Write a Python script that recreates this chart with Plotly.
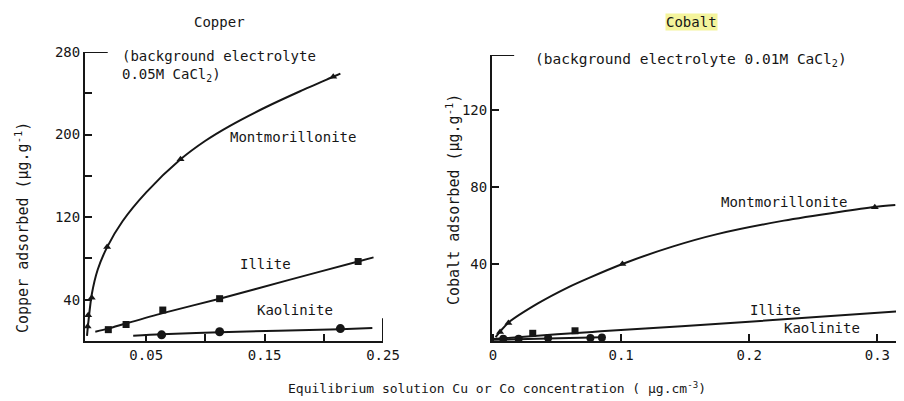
import plotly.graph_objects as go

# ---------------- data ----------------
# Copper panel
cu_mont_x = [0.0005, 0.001, 0.004, 0.017, 0.079, 0.208]
cu_mont_y = [14, 25, 42, 91, 176, 256]
cu_mont_fit_x = [0.0, 0.001, 0.004, 0.009, 0.017, 0.03, 0.05, 0.079, 0.1, 0.12, 0.15, 0.18, 0.208, 0.214]
cu_mont_fit_y = [5, 17, 45, 69, 91, 116, 144, 176, 194, 208, 226, 242, 256, 259]

cu_illite_x = [0.018, 0.033, 0.064, 0.112, 0.229]
cu_illite_y = [11, 16, 30, 41, 77]
cu_illite_fit_x = [0.007, 0.018, 0.033, 0.064, 0.112, 0.17, 0.229, 0.242]
cu_illite_fit_y = [9, 12, 17, 27, 41, 59, 77, 81]

cu_kaol_x = [0.063, 0.112, 0.214]
cu_kaol_y = [6, 9, 12]
cu_kaol_fit_x = [0.039, 0.063, 0.112, 0.214, 0.241]
cu_kaol_fit_y = [5, 6.5, 8.5, 11.5, 12.5]

# Cobalt panel
co_mont_x = [0.0055, 0.012, 0.101, 0.298]
co_mont_y = [4.7, 9.4, 40, 69.5]
co_mont_fit_x = [0.002, 0.012, 0.035, 0.059, 0.075, 0.101, 0.14, 0.175, 0.227, 0.27, 0.298, 0.314]
co_mont_fit_y = [2, 9.5, 19.5, 28, 32.8, 40, 49, 55.5, 62.5, 67, 69.6, 70.6]

co_illite_x = [0.031, 0.064]
co_illite_y = [4, 5.3]
co_illite_fit_x = [0.0, 0.05, 0.084, 0.2, 0.32]
co_illite_fit_y = [1, 3.5, 5, 10, 15.6]

co_kaol_x = [0.008, 0.02, 0.043, 0.076, 0.085]
co_kaol_y = [1.2, 1.2, 1.6, 1.6, 1.8]
co_kaol_fit_x = [0.0, 0.043, 0.085]
co_kaol_fit_y = [0.6, 1.3, 1.9]

cu_xtick_vals = [0.05, 0.10, 0.15, 0.20, 0.25]
cu_xtick_text = ["0.05", "", "0.15", "", "0.25"]
cu_ytick_vals = [40, 80, 120, 160, 200, 240, 280]
cu_ytick_text = ["40", "", "120", "", "200", "", "280"]
co_xtick_vals = [0, 0.1, 0.2, 0.3]
co_xtick_text = ["0", "0.1", "0.2", "0.3"]
co_ytick_vals = [40, 80, 120]
co_ytick_text = ["40", "80", "120"]

# ---------------- figure ----------------
OX, OY = 8, 8               # page body margin
W, H = 904 - OX, 401 - OY
INK = "#161616"
FONT = "DejaVu Sans Mono"

def px_x(p):
    return (p - OX) / W

def px_y(p):
    return 1 - (p - OY) / H

fig = go.Figure()

def add_series(xa, ya, fx, fy, px, py, symbol, size):
    fig.add_trace(go.Scatter(x=fx, y=fy, mode="lines", line=dict(color=INK, width=2, shape="spline", smoothing=0.8),
                             xaxis=xa, yaxis=ya, hoverinfo="skip", showlegend=False))
    fig.add_trace(go.Scatter(x=px, y=py, mode="markers", marker=dict(color=INK, symbol=symbol, size=size),
                             xaxis=xa, yaxis=ya, showlegend=False))

add_series("x", "y", cu_mont_fit_x, cu_mont_fit_y, cu_mont_x, cu_mont_y, "triangle-up", 7)
add_series("x", "y", cu_illite_fit_x, cu_illite_fit_y, cu_illite_x, cu_illite_y, "square", 7)
add_series("x", "y", cu_kaol_fit_x, cu_kaol_fit_y, cu_kaol_x, cu_kaol_y, "circle", 9)
add_series("x2", "y2", co_mont_fit_x, co_mont_fit_y, co_mont_x, co_mont_y, "triangle-up", 7)
add_series("x2", "y2", co_illite_fit_x, co_illite_fit_y, co_illite_x, co_illite_y, "square", 7)
add_series("x2", "y2", co_kaol_fit_x, co_kaol_fit_y, co_kaol_x, co_kaol_y, "circle", 8)

axis_common = dict(showgrid=False, zeroline=False, showline=True, linecolor=INK, linewidth=2,
                   ticks="inside", tickcolor=INK, tickwidth=1.5, ticklen=7, automargin=False,
                   tickfont=dict(family=FONT, size=14, color=INK))

fig.update_layout(
    width=W, height=H,
    margin=dict(l=0, r=0, t=0, b=0),
    paper_bgcolor="white", plot_bgcolor="white",
    font=dict(family=FONT, size=14, color=INK),
    xaxis=dict(domain=[px_x(85), px_x(383)], range=[-0.0017, 0.25], anchor="y",
               tickvals=cu_xtick_vals, ticktext=cu_xtick_text, **axis_common),
    yaxis=dict(domain=[px_y(341), px_y(52)], range=[0, 280], anchor="x",
               tickvals=cu_ytick_vals, ticktext=cu_ytick_text, **axis_common),
    xaxis2=dict(domain=[px_x(492), px_x(903)], range=[-0.0008, 0.32], anchor="y2",
                tickvals=co_xtick_vals, ticktext=co_xtick_text, **axis_common),
    yaxis2=dict(domain=[px_y(341), px_y(55)], range=[0, 148.5], anchor="x2",
                tickvals=co_ytick_vals, ticktext=co_ytick_text, **axis_common),
)

# axis end decorations (long top ticks, tall right tick)
fig.add_shape(type="line", xref="x", yref="y", x0=-0.0017, x1=0.0175, y0=280, y1=280, line=dict(color=INK, width=2))
fig.add_shape(type="line", xref="x", yref="y", x0=0.25, x1=0.25, y0=0, y1=22, line=dict(color=INK, width=2))
fig.add_shape(type="line", xref="x2", yref="y2", x0=-0.0008, x1=0.0165, y0=148.5, y1=148.5, line=dict(color=INK, width=2))

def note(text, x, y, size=14, xanchor="left", yanchor="middle", angle=0, bg=None):
    fig.add_annotation(text=text, xref="paper", yref="paper", x=px_x(x), y=px_y(y),
                       xanchor=xanchor, yanchor=yanchor, showarrow=False, textangle=angle,
                       font=dict(family=FONT, size=size, color=INK),
                       bgcolor=bg, borderpad=0, align="left")

note("Copper", 219, 22, xanchor="center")
note("Cobalt", 691, 22, xanchor="center", bg="#f4f49c")
note("(background electrolyte<br>0.05M CaCl<sub>2</sub>)", 121, 66)
note("(background electrolyte 0.01M CaCl<sub>2</sub>)", 534, 60, size=14.5)

note("Montmorillonite", 229, 137)
note("Illite", 239, 264)
note("Kaolinite", 256, 310)
note("Montmorillonite", 720, 202)
note("Illite", 749, 310)
note("Kaolinite", 783, 328)

note("Copper adsorbed (µg.g<sup>-1</sup>)", 22, 228, size=15, angle=-90, xanchor="center")
note("Cobalt adsorbed (µg.g<sup>-1</sup>)", 453, 200, size=15, angle=-90, xanchor="center")
note("Equilibrium solution Cu or Co concentration ( µg.cm<sup>-3</sup>)", 497, 388, size=13, xanchor="center")

fig.write_html("out.html")
